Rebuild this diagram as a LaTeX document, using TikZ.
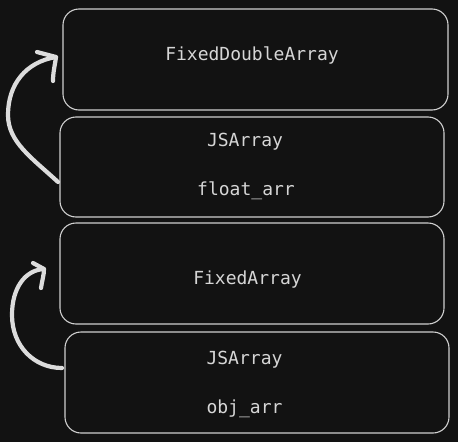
\documentclass[tikz,border=0pt]{standalone}
\usepackage{fontspec}
\setmonofont{DejaVu Sans Mono}
\definecolor{bg}{HTML}{121212}
\definecolor{edge}{HTML}{CFCFCF}
\definecolor{ink}{HTML}{D6D6D6}
\definecolor{arrowc}{HTML}{DCDCDC}
\tikzset{
  box/.style={draw=edge, line width=1.1pt, rounded corners=16pt, rectangle,
    inner sep=0pt, outer sep=0pt, minimum width=384pt, minimum height=101pt},
  lbl/.style={text=ink, font=\ttfamily\fontsize{18}{18}\selectfont, anchor=base, inner sep=0pt},
  curvearrow/.style={draw=arrowc, line width=4.2pt, line cap=round, line join=round},
}
\begin{document}
\begin{tikzpicture}[x=1pt, y=-1pt]
\fill[bg] (0,0) rectangle (458,442);
\useasboundingbox (0,0) rectangle (458,442);

\node[box, minimum width=385pt] (b1) at (255.5,59.5) {};
\node[box, minimum height=100pt] (b2) at (252,167) {};
\node[box] (b3) at (252,273.5) {};
\node[box] (b4) at (257,382.5) {};

\node[lbl] (t1) at (252,60) {FixedDoubleArray};
\node[lbl] (t2) at (245,146.5) {JSArray};
\node[lbl] (t3) at (246,195.5) {float\_arr};
\node[lbl] (t4) at (247.5,284.3) {FixedArray};
\node[lbl] (t5) at (244.5,364.3) {JSArray};
\node[lbl] (t6) at (244.5,413.3) {obj\_arr};

% arrow from b2 to b1
\coordinate (a1s) at ([xshift=-2pt,yshift=-15pt]b2.west);
\coordinate (a1e) at ([xshift=-7pt,yshift=2.5pt]b1.west);
\draw[curvearrow] (a1s) .. controls (32,158) and (8,142) .. (8,115)
  .. controls (8,84) and (26,62) .. (a1e);
\draw[curvearrow] (37,52) -- (a1e) .. controls (55,65) and (53,72) .. (53,81);

% arrow from b4 to b3
\coordinate (a2s) at ([xshift=-3pt,yshift=14.5pt]b4.west);
\coordinate (a2e) at ([xshift=-16pt,yshift=4.5pt]b3.west);
\draw[curvearrow] (a2s) .. controls (34,368) and (12,346) .. (12,315)
  .. controls (12,288) and (25,270) .. (a2e);
\draw[curvearrow] (33,263) -- (a2e) .. controls (44,275) and (42,281) .. (41,288);
\end{tikzpicture}
\end{document}
